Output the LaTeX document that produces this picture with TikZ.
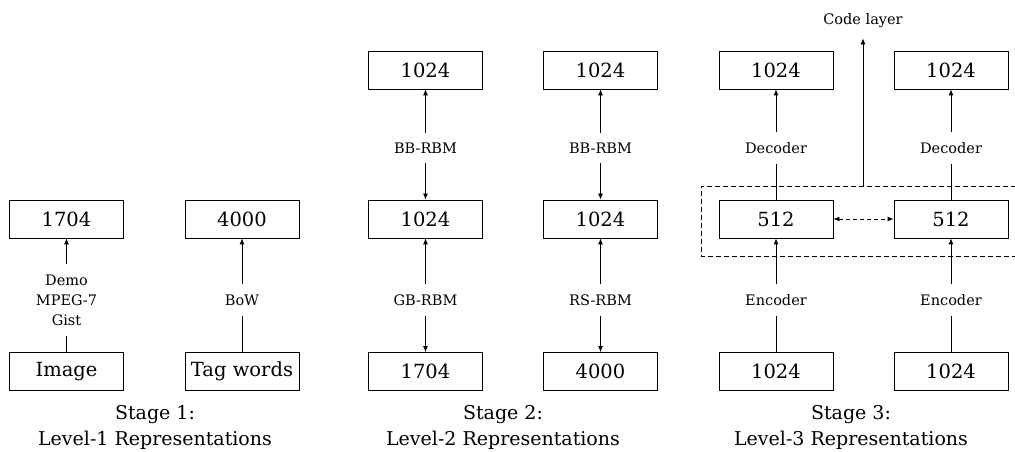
\documentclass[tikz,border=0pt]{standalone}
\usepackage{fontspec}
\setmainfont{DejaVu Serif}
\usetikzlibrary{arrows.meta}
\tikzset{
  layer/.style={draw, line width=0.8pt, minimum width=114pt, minimum height=38pt,
    inner sep=0pt, font=\fontsize{19.5}{22}\selectfont},
  conn/.style={inner xsep=2pt, inner ysep=10pt, align=center,
    font=\fontsize{14.5}{20}\selectfont},
  stagecap/.style={inner sep=0pt, align=center, font=\fontsize{19}{25.5}\selectfont},
  wire/.style={line width=0.8pt},
  feed/.style={wire, -{Latex[length=6pt,width=5pt]}},
}

\begin{document}
\begin{tikzpicture}[x=1pt,y=1pt]
  \useasboundingbox (0,0) rectangle (1015,452);

  % Stage 1
  \node[layer] (img) at (66.5,80.5) {Image};
  \node[layer] (tag) at (242,80.5) {Tag words};
  \node[layer] (imgfeat) at (66.5,233) {1704};
  \node[layer] (tagfeat) at (242,233) {4000};
  \node[conn] (extract) at (66.5,152) {Demo\\MPEG-7\\Gist};
  \node[conn] (bow) at (242,152) {BoW};
  \draw[wire] (img) -- (extract);
  \draw[feed] (extract) -- (imgfeat);
  \draw[wire] (tag) -- (bow);
  \draw[feed] (bow) -- (tagfeat);
  \node[stagecap, anchor=north] (cap1) at (155,46.5) {Stage 1:\\Level-1 Representations};

  % Stage 2
  \foreach \name/\cx/\inp/\lo/\hi in {img/425.5/1704/GB-RBM/BB-RBM, tag/600.5/4000/RS-RBM/BB-RBM}{%
    \node[layer] (\name in) at (\cx,80.5) {\inp};
    \node[layer] (\name hid) at (\cx,233) {1024};
    \node[layer] (\name top) at (\cx,382) {1024};
    \node[conn] (\name lo) at (\cx,152) {\lo};
    \node[conn] (\name hi) at (\cx,304) {\hi};
    \draw[feed] (\name lo) -- (\name hid);
    \draw[feed] (\name lo) -- (\name in);
    \draw[feed] (\name hi) -- (\name top);
    \draw[feed] (\name hi) -- (\name hid);
  }
  \node[stagecap, anchor=north] (cap2) at (503,46.5) {Stage 2:\\Level-2 Representations};

  % Stage 3
  \foreach \name/\cx in {img/776, tag/951}{%
    \node[layer] (\name enc) at (\cx,80.5) {1024};
    \node[layer] (\name code) at (\cx,233) {512};
    \node[layer] (\name dec) at (\cx,382) {1024};
    \node[conn] (\name encl) at (\cx,152) {Encoder};
    \node[conn] (\name decl) at (\cx,304) {Decoder};
    \draw[wire] (\name enc) -- (\name encl);
    \draw[feed] (\name encl) -- (\name code);
    \draw[wire] (\name code) -- (\name decl);
    \draw[feed] (\name decl) -- (\name dec);
  }
  \draw[wire, dash pattern=on 4pt off 3pt,
    {Latex[length=6pt,width=5pt]}-{Latex[length=6pt,width=5pt]}] (imgcode) -- (tagcode);
  \draw[wire, dash pattern=on 5pt off 3pt] (1016,266) -| (701,196) -- (1016,196);
  \coordinate (codetop) at (863,266);
  \node[conn, anchor=base] (codelayer) at (863,427) {Code layer};
  \draw[feed] (codetop) -- (codelayer);
  \node[stagecap, anchor=north] (cap3) at (851,46.5) {Stage 3:\\Level-3 Representations};
\end{tikzpicture}
\end{document}
